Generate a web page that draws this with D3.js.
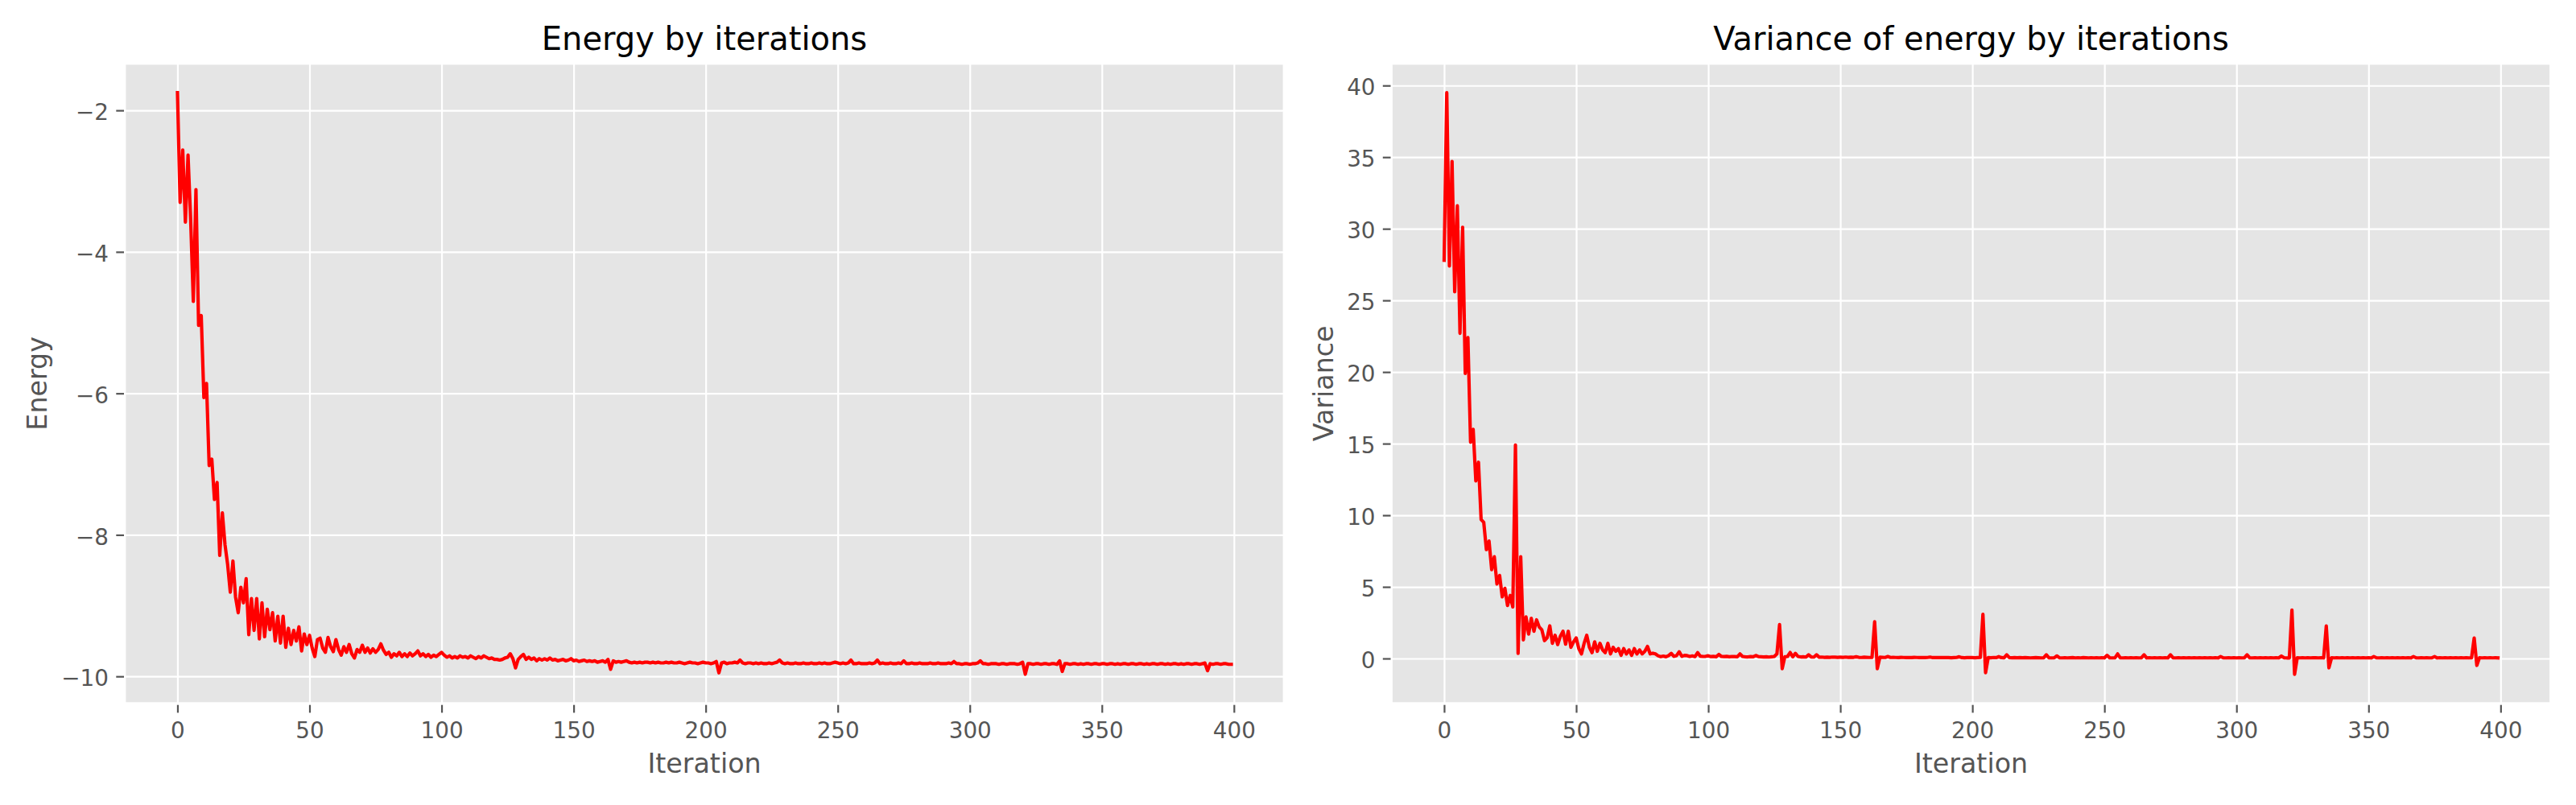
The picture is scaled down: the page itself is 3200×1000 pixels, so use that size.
<!DOCTYPE html>
<html>
<head>
<meta charset="utf-8">
<script src="https://cdn.jsdelivr.net/npm/d3@7"></script>
<style>
  html, body { margin: 0; padding: 0; background: #ffffff; }
  svg { display: block; font-family: "DejaVu Sans", sans-serif; }
</style>
</head>
<body>
<svg id="chart" width="3200" height="1000"></svg>
<script>
// ---------------- data ----------------
const energy = [
  -1.75, -3.30, -2.56, -3.58, -2.63, -3.55, -4.70, -3.12, -5.04, -4.90,
  -6.06, -5.86, -7.02, -6.93, -7.50, -7.26, -8.29, -7.69, -8.14, -8.42,
  -8.81, -8.37, -8.88, -9.10, -8.74, -8.96, -8.62, -9.41, -8.90, -9.35,
  -8.90, -9.47, -8.96, -9.44, -9.05, -9.34, -9.10, -9.50, -9.15, -9.53,
  -9.15, -9.59, -9.32, -9.55, -9.35, -9.50, -9.30, -9.64, -9.40, -9.55,
  -9.42, -9.60, -9.72, -9.48, -9.46, -9.60, -9.66, -9.45, -9.58, -9.65,
  -9.48, -9.62, -9.70, -9.58, -9.66, -9.55, -9.68, -9.74, -9.62, -9.66,
  -9.56, -9.66, -9.60, -9.67, -9.61, -9.66, -9.62, -9.54, -9.63, -9.69,
  -9.66, -9.73, -9.68, -9.71, -9.66, -9.72, -9.68, -9.72, -9.67, -9.71,
  -9.68, -9.64, -9.71, -9.68, -9.72, -9.69, -9.73, -9.70, -9.72, -9.69,
  -9.66, -9.70, -9.73, -9.71, -9.74, -9.72, -9.74, -9.71, -9.73, -9.72,
  -9.74, -9.71, -9.73, -9.75, -9.72, -9.74, -9.71, -9.73, -9.75, -9.74,
  -9.76, -9.76, -9.77, -9.76, -9.74, -9.73, -9.68, -9.75, -9.88, -9.76,
  -9.72, -9.69, -9.76, -9.73, -9.76, -9.74, -9.78, -9.75, -9.77, -9.75,
  -9.77, -9.74, -9.77, -9.76, -9.78, -9.77, -9.76, -9.78, -9.77, -9.75,
  -9.78, -9.77, -9.79, -9.78, -9.77, -9.79, -9.78, -9.79, -9.78, -9.80,
  -9.79, -9.78, -9.80, -9.76, -9.90, -9.78, -9.80, -9.79, -9.80, -9.79,
  -9.78, -9.80, -9.81, -9.80, -9.81, -9.80, -9.81, -9.80, -9.80, -9.81,
  -9.80, -9.81, -9.80, -9.81, -9.81, -9.80, -9.81, -9.80, -9.81, -9.81,
  -9.80, -9.81, -9.82, -9.81, -9.80, -9.81, -9.81, -9.82, -9.81, -9.80,
  -9.81, -9.81, -9.82, -9.81, -9.79, -9.95, -9.81, -9.80, -9.82, -9.81,
  -9.81, -9.80, -9.81, -9.77, -9.81, -9.82, -9.81, -9.81, -9.82, -9.81,
  -9.82, -9.81, -9.82, -9.82, -9.81, -9.82, -9.81, -9.80, -9.77, -9.81,
  -9.82, -9.81, -9.82, -9.82, -9.81, -9.82, -9.82, -9.81, -9.82, -9.82,
  -9.81, -9.82, -9.82, -9.81, -9.82, -9.81, -9.82, -9.82, -9.81, -9.80,
  -9.81, -9.82, -9.81, -9.82, -9.81, -9.77, -9.82, -9.82, -9.81, -9.82,
  -9.82, -9.82, -9.81, -9.82, -9.81, -9.77, -9.82, -9.81, -9.82, -9.82,
  -9.81, -9.82, -9.82, -9.81, -9.82, -9.78, -9.82, -9.82, -9.81, -9.82,
  -9.82, -9.81, -9.82, -9.82, -9.82, -9.81, -9.82, -9.82, -9.81, -9.82,
  -9.82, -9.82, -9.81, -9.82, -9.79, -9.82, -9.82, -9.83, -9.82, -9.82,
  -9.83, -9.82, -9.82, -9.81, -9.78, -9.82, -9.82, -9.83, -9.82, -9.82,
  -9.82, -9.83, -9.82, -9.82, -9.83, -9.82, -9.82, -9.82, -9.83, -9.82,
  -9.80, -9.97, -9.82, -9.82, -9.83, -9.82, -9.82, -9.83, -9.82, -9.82,
  -9.83, -9.82, -9.82, -9.83, -9.78, -9.93, -9.82, -9.82, -9.83, -9.82,
  -9.82, -9.83, -9.82, -9.83, -9.82, -9.82, -9.83, -9.82, -9.82, -9.83,
  -9.82, -9.82, -9.83, -9.82, -9.82, -9.83, -9.82, -9.83, -9.82, -9.82,
  -9.83, -9.82, -9.82, -9.83, -9.82, -9.82, -9.83, -9.82, -9.83, -9.82,
  -9.82, -9.83, -9.82, -9.82, -9.83, -9.82, -9.83, -9.82, -9.82, -9.83,
  -9.82, -9.83, -9.82, -9.82, -9.83, -9.82, -9.82, -9.83, -9.82, -9.81,
  -9.92, -9.82, -9.83, -9.82, -9.82, -9.83, -9.82, -9.82, -9.83, -9.83
];

const variance = [
  27.8, 39.5, 27.4, 34.7, 25.6, 31.6, 22.7, 30.1, 19.9, 22.4,
  15.1, 16.0, 12.4, 13.7, 9.7, 9.5, 7.6, 8.2, 6.2, 7.1,
  5.2, 5.8, 4.3, 4.9, 3.7, 4.4, 3.6, 14.9, 0.35, 7.1,
  1.3, 2.9, 1.7, 2.8, 1.9, 2.7, 2.2, 2.0, 1.25, 1.44,
  2.28, 1.06, 1.62, 0.97, 1.55, 1.9, 1.0, 1.9, 0.78, 1.16,
  1.44, 0.69, 0.32, 1.06, 1.62, 0.78, 0.41, 1.16, 0.5, 1.06,
  0.6, 0.41, 1.06, 0.32, 0.78, 0.5, 0.69, 0.22, 0.69, 0.32,
  0.6, 0.22, 0.69, 0.32, 0.6, 0.32, 0.5, 0.84, 0.32, 0.37,
  0.32, 0.19, 0.13, 0.17, 0.12, 0.2, 0.36, 0.15, 0.2, 0.47,
  0.15, 0.22, 0.2, 0.14, 0.18, 0.13, 0.41, 0.16, 0.14, 0.15,
  0.19, 0.13, 0.15, 0.12, 0.28, 0.14, 0.13, 0.15, 0.12, 0.14,
  0.13, 0.12, 0.32, 0.14, 0.12, 0.11, 0.13, 0.12, 0.21, 0.13,
  0.12, 0.11, 0.12, 0.10, 0.12, 0.14, 0.32, 2.37, -0.71, 0.12,
  0.14, 0.42, 0.12, 0.36, 0.14, 0.11, 0.12, 0.10, 0.26, 0.11,
  0.10, 0.26, 0.09, 0.10, 0.08, 0.09, 0.08, 0.10, 0.09, 0.08,
  0.09, 0.08, 0.10, 0.08, 0.09, 0.08, 0.12, 0.08, 0.07, 0.09,
  0.08, 0.07, 0.08, 2.56, -0.71, 0.09, 0.08, 0.07, 0.14, 0.07,
  0.08, 0.07, 0.06, 0.08, 0.07, 0.06, 0.07, 0.06, 0.08, 0.07,
  0.06, 0.07, 0.06, 0.07, 0.10, 0.06, 0.07, 0.06, 0.07, 0.06,
  0.07, 0.06, 0.05, 0.06, 0.07, 0.12, 0.06, 0.05, 0.06, 0.07,
  0.06, 0.05, 0.06, 0.07, 3.08, -0.99, 0.06, 0.05, 0.07, 0.06,
  0.13, 0.06, 0.05, 0.26, 0.06, 0.05, 0.06, 0.05, 0.06, 0.05,
  0.06, 0.05, 0.04, 0.05, 0.06, 0.05, 0.04, 0.05, 0.26, 0.05,
  0.04, 0.05, 0.18, 0.05, 0.04, 0.05, 0.04, 0.05, 0.06, 0.04,
  0.05, 0.04, 0.06, 0.05, 0.04, 0.05, 0.04, 0.05, 0.04, 0.05,
  0.04, 0.22, 0.05, 0.04, 0.05, 0.32, 0.05, 0.04, 0.05, 0.04,
  0.05, 0.04, 0.05, 0.04, 0.05, 0.26, 0.04, 0.05, 0.04, 0.05,
  0.04, 0.05, 0.04, 0.05, 0.04, 0.26, 0.05, 0.04, 0.05, 0.04,
  0.05, 0.04, 0.05, 0.04, 0.05, 0.04, 0.05, 0.04, 0.05, 0.04,
  0.05, 0.04, 0.05, 0.04, 0.13, 0.05, 0.04, 0.05, 0.04, 0.05,
  0.04, 0.05, 0.04, 0.05, 0.26, 0.05, 0.04, 0.05, 0.04, 0.05,
  0.04, 0.05, 0.04, 0.05, 0.04, 0.05, 0.04, 0.17, 0.05, 0.04,
  0.04, 3.38, -1.10, 0.05, 0.04, 0.05, 0.04, 0.05, 0.04, 0.05,
  0.05, 0.04, 0.05, 0.04, 2.27, -0.65, 0.05, 0.04, 0.05, 0.04,
  0.05, 0.04, 0.05, 0.04, 0.05, 0.04, 0.05, 0.04, 0.05, 0.04,
  0.05, 0.04, 0.13, 0.05, 0.04, 0.05, 0.04, 0.05, 0.04, 0.05,
  0.04, 0.05, 0.04, 0.05, 0.04, 0.05, 0.04, 0.13, 0.05, 0.04,
  0.05, 0.04, 0.05, 0.04, 0.05, 0.13, 0.04, 0.05, 0.04, 0.05,
  0.04, 0.05, 0.04, 0.05, 0.04, 0.05, 0.04, 0.05, 0.04, 0.05,
  1.43, -0.48, 0.05, 0.04, 0.05, 0.04, 0.05, 0.04, 0.05, 0.04
];

const xTicks = [0, 50, 100, 150, 200, 250, 300, 350, 400];
const energyTicks = [-10, -8, -6, -4, -2];
const varianceTicks = [0, 5, 10, 15, 20, 25, 30, 35, 40];
const titles = ["Energy by iterations", "Variance of energy by iterations"];
const yLabels = ["Energy", "Variance"];
const xLabel = "Iteration";

// ---------------- layout ----------------
const svg = d3.select("#chart");
const TOP = 79, BOTTOM = 873.7;
const panels = [
  { left: 155, right: 1595, values: energy, yTicks: energyTicks, title: titles[0], yLabel: yLabels[0], yLabelX: 58 },
  { left: 1728.5, right: 3168.5, values: variance, yTicks: varianceTicks, title: titles[1], yLabel: yLabels[1], yLabelX: 1656 }
];

const fmt = d3.format("d");

panels.forEach(p => {
  const n = p.values.length;
  const xm = 0.05 * (n - 1);
  const x = d3.scaleLinear().domain([-xm, (n - 1) + xm]).range([p.left, p.right]);
  const [mn, mx] = d3.extent(p.values);
  const ym = 0.05 * (mx - mn);
  const y = d3.scaleLinear().domain([mn - ym, mx + ym]).range([BOTTOM, TOP]);

  const g = svg.append("g");
  // background
  g.append("rect")
    .attr("x", p.left).attr("y", TOP)
    .attr("width", p.right - p.left).attr("height", BOTTOM - TOP)
    .attr("fill", "#E5E5E5");

  // grid
  const grid = g.append("g");
  grid.append("g").attr("transform", `translate(0,${BOTTOM})`)
    .call(d3.axisBottom(x).tickValues(xTicks).tickSize(-(BOTTOM - TOP)).tickFormat(""))
    .call(s => s.select(".domain").remove())
    .call(s => s.selectAll("line").attr("stroke", "#ffffff").attr("stroke-width", 2.2));
  grid.append("g").attr("transform", `translate(${p.left},0)`)
    .call(d3.axisLeft(y).tickValues(p.yTicks).tickSize(-(p.right - p.left)).tickFormat(""))
    .call(s => s.select(".domain").remove())
    .call(s => s.selectAll("line").attr("stroke", "#ffffff").attr("stroke-width", 2.2));

  // data line
  const line = d3.line().x((d, i) => x(i)).y(d => y(d));
  g.append("path")
    .datum(p.values)
    .attr("d", line)
    .attr("fill", "none")
    .attr("stroke", "#ff0000")
    .attr("stroke-width", 4.17)
    .attr("stroke-linejoin", "round")
    .attr("stroke-linecap", "square");

  // white spines
  g.append("rect")
    .attr("x", p.left).attr("y", TOP)
    .attr("width", p.right - p.left).attr("height", BOTTOM - TOP)
    .attr("fill", "none").attr("stroke", "#ffffff").attr("stroke-width", 2.8);

  // x axis ticks + labels
  g.append("g").attr("transform", `translate(0,${BOTTOM + 2})`)
    .call(d3.axisBottom(x).tickValues(xTicks).tickSize(9.7).tickPadding(11.9).tickFormat(fmt))
    .call(s => s.select(".domain").remove())
    .call(s => s.selectAll("line").attr("stroke", "#555555").attr("stroke-width", 2.2))
    .call(s => s.selectAll("text").attr("fill", "#555555").attr("font-size", 27.8)
      .attr("font-family", "DejaVu Sans"));

  // y axis ticks + labels
  g.append("g").attr("transform", `translate(${p.left - 1},0)`)
    .call(d3.axisLeft(y).tickValues(p.yTicks).tickSize(9.7).tickPadding(9.3).tickFormat(fmt))
    .call(s => s.select(".domain").remove())
    .call(s => s.selectAll("line").attr("stroke", "#555555").attr("stroke-width", 2.2))
    .call(s => s.selectAll("text").attr("fill", "#555555").attr("font-size", 27.8)
      .attr("dy", "0.42em").attr("font-family", "DejaVu Sans"));

  // title
  g.append("text")
    .attr("x", (p.left + p.right) / 2).attr("y", 62)
    .attr("text-anchor", "middle")
    .attr("font-size", 40).attr("fill", "#000000")
    .text(p.title);

  // x label
  g.append("text")
    .attr("x", (p.left + p.right) / 2).attr("y", 960)
    .attr("text-anchor", "middle")
    .attr("font-size", 33.3).attr("fill", "#555555")
    .text(xLabel);

  // y label
  g.append("text")
    .attr("transform", `translate(${p.yLabelX},${(TOP + BOTTOM) / 2}) rotate(-90)`)
    .attr("text-anchor", "middle")
    .attr("font-size", 33.3).attr("fill", "#555555")
    .text(p.yLabel);
});
</script>
</body>
</html>
